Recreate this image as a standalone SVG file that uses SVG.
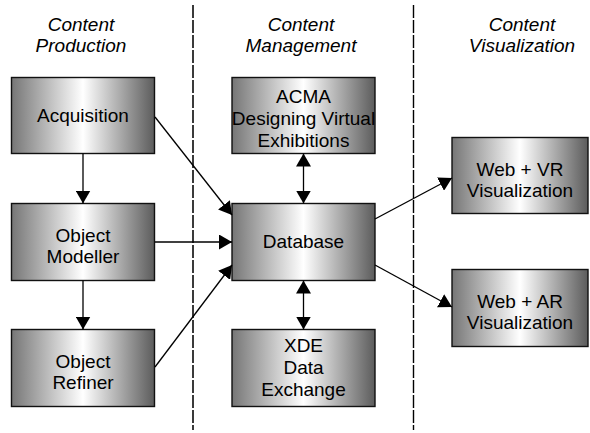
<svg xmlns="http://www.w3.org/2000/svg" width="590" height="433" viewBox="0 0 590 433">
<defs>
<linearGradient id="g" x1="0" y1="0" x2="1" y2="0">
<stop offset="0" stop-color="#767676"/>
<stop offset="0.5" stop-color="#ffffff"/>
<stop offset="1" stop-color="#5c5c5c"/>
</linearGradient>
<marker id="ah" viewBox="0 0 13 15" refX="13" refY="7.5" markerWidth="13" markerHeight="15" markerUnits="userSpaceOnUse" orient="auto-start-reverse">
<path d="M0,0 L13,7.5 L0,15 z" fill="#000"/>
</marker>
</defs>
<style>
.box{fill:url(#g);stroke:#111;stroke-width:1.4}
.t{font-family:"Liberation Sans",Arial,sans-serif;font-size:19px;fill:#000;text-anchor:middle}
.h{font-family:"Liberation Sans",Arial,sans-serif;font-size:19px;font-style:italic;fill:#000;text-anchor:middle}
.c{stroke:#000;stroke-width:1.3;fill:none;marker-end:url(#ah)}
.d{marker-start:url(#ah)}
</style>
<rect width="590" height="433" fill="#fff"/>
<g id="dividers">
<line x1="193" y1="5" x2="193" y2="430" stroke="#3a3a3a" stroke-width="2" stroke-dasharray="13 2"/>
<line x1="413.5" y1="5" x2="413.5" y2="430" stroke="#000" stroke-width="1.4" stroke-dasharray="13 2"/>
</g>
<g id="headers">
<text class="h" x="81" y="31">Content</text>
<text class="h" x="81" y="52">Production</text>
<text class="h" x="301" y="31">Content</text>
<text class="h" x="301" y="52">Management</text>
<text class="h" x="522" y="31">Content</text>
<text class="h" x="522" y="52">Visualization</text>
</g>
<g id="acquisition">
<rect class="box" x="11.5" y="77.5" width="143" height="76"/>
<text class="t" x="83" y="122">Acquisition</text>
</g>
<g id="object-modeller">
<rect class="box" x="11.5" y="203.5" width="143" height="77"/>
<text class="t" x="83" y="242">Object</text>
<text class="t" x="83" y="263">Modeller</text>
</g>
<g id="object-refiner">
<rect class="box" x="11.5" y="329.5" width="143" height="77"/>
<text class="t" x="83" y="368">Object</text>
<text class="t" x="83" y="389">Refiner</text>
</g>
<g id="acma">
<rect class="box" x="232" y="77.5" width="143" height="76"/>
<text class="t" x="303.5" y="103">ACMA</text>
<text class="t" x="303.5" y="125">Designing Virtual</text>
<text class="t" x="303.5" y="147">Exhibitions</text>
</g>
<g id="database">
<rect class="box" x="232" y="203.5" width="143" height="77"/>
<text class="t" x="303.5" y="248">Database</text>
</g>
<g id="xde">
<rect class="box" x="232" y="329.5" width="143" height="77"/>
<text class="t" x="303.5" y="352">XDE</text>
<text class="t" x="303.5" y="374">Data</text>
<text class="t" x="303.5" y="396">Exchange</text>
</g>
<g id="web-vr">
<rect class="box" x="452" y="137.5" width="136" height="76"/>
<text class="t" x="520" y="176">Web + VR</text>
<text class="t" x="520" y="197">Visualization</text>
</g>
<g id="web-ar">
<rect class="box" x="452" y="269.5" width="136" height="77"/>
<text class="t" x="520" y="308">Web + AR</text>
<text class="t" x="520" y="329">Visualization</text>
</g>
<g id="connectors">
<line class="c" x1="83" y1="153.5" x2="83" y2="203.5"/>
<line class="c" x1="83" y1="280.5" x2="83" y2="329.5"/>
<line class="c" x1="155" y1="117" x2="232" y2="215"/>
<line class="c" x1="155" y1="242" x2="232" y2="242"/>
<line class="c" x1="155" y1="367" x2="232" y2="265"/>
<line class="c d" x1="303.5" y1="153.5" x2="303.5" y2="203.5"/>
<line class="c d" x1="303.5" y1="280.5" x2="303.5" y2="329.5"/>
<line class="c" x1="375" y1="219" x2="452" y2="178"/>
<line class="c" x1="375" y1="265" x2="452" y2="307"/>
</g>
</svg>
